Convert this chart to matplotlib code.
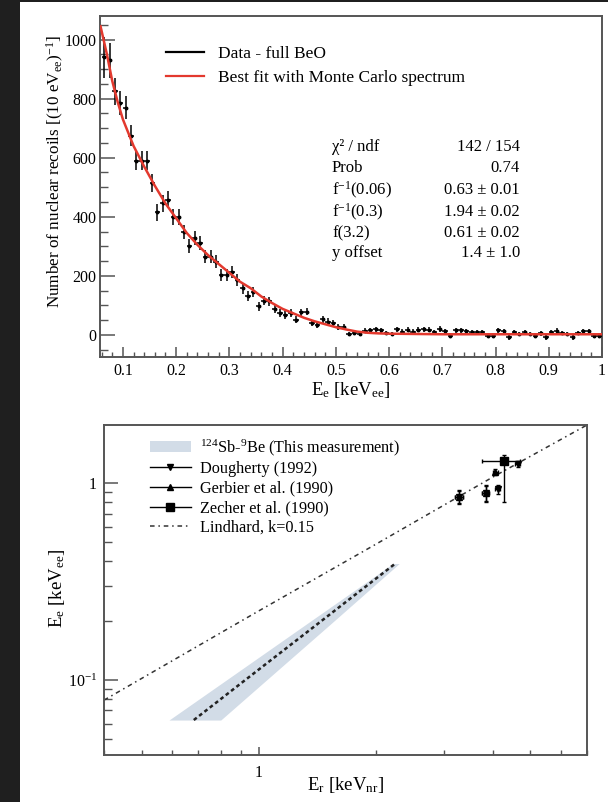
import matplotlib
matplotlib.use('Agg')
import matplotlib.pyplot as plt
from matplotlib.lines import Line2D
from matplotlib.patches import Patch, Rectangle
import matplotlib.ticker as mt
import numpy as np

plt.rcParams['font.family'] = ['Liberation Serif', 'DejaVu Serif']
plt.rcParams['mathtext.fontset'] = 'custom'
plt.rcParams['mathtext.rm'] = 'Liberation Serif'
plt.rcParams['mathtext.it'] = 'Liberation Serif:italic'
plt.rcParams['mathtext.bf'] = 'Liberation Serif:bold'

# ---------------- data: top panel ----------------
bin_start = 0.065
bin_width = 0.01
counts = [940, 930, 825, 785, 770, 675, 590, 590, 590, 514,
          415, 445, 458, 400, 400, 348, 300, 328, 311, 265,
          265, 248, 203, 203, 212, 186, 158, 130, 144, 97,
          115, 113, 88, 73, 68, 75, 52, 76, 79, 40,
          34, 53, 45, 40, 28, 28, 3, 6, 3, 14,
          15, 19, 15, 6, 3, 19, 11, 17, 11, 17,
          19, 17, 8, 20, 12, -3, 15, 15, 12, 10,
          10, 8, -3, -3, 15, 13, -8, 8, 3, 10,
          3, -3, 5, -8, 10, 13, 6, 3, -8, 6,
          12, 12, -3, -3]
count_errs = [70, 60, 45, 40, 38, 35, 33, 33, 32, 30,
              28, 28, 28, 27, 27, 25, 24, 24, 24, 22,
              22, 21, 20, 20, 20, 19, 18, 17, 17, 15,
              15, 15, 14, 13, 13, 13, 12, 13, 13, 11,
              11, 12, 11, 11, 10, 10, 8, 8, 8, 9,
              9, 9, 9, 8, 8, 9, 8, 9, 8, 9,
              9, 9, 8, 9, 8, 8, 9, 9, 8, 8,
              8, 8, 8, 8, 9, 8, 8, 8, 8, 8,
              8, 8, 8, 8, 8, 9, 8, 8, 8, 8,
              8, 8, 8, 8]
fit_x = [0.058, 0.07, 0.08, 0.09, 0.10, 0.12, 0.14, 0.16, 0.18, 0.20,
         0.22, 0.24, 0.26, 0.28, 0.30, 0.32, 0.34, 0.36, 0.38, 0.40,
         0.42, 0.44, 0.46, 0.48, 0.50, 0.52, 0.54, 0.56, 0.58, 0.60,
         0.65, 0.70, 0.80, 0.90, 1.00]
fit_y = [1045, 950, 860, 790, 730, 640, 570, 505, 445, 395,
         345, 305, 270, 240, 210, 180, 158, 130, 108, 88,
         73, 58, 46, 36, 26, 18, 11, 7, 5, 4,
         3, 2, 2, 2, 2]
x_ticks_top = [0.1, 0.2, 0.3, 0.4, 0.5, 0.6, 0.7, 0.8, 0.9, 1.0]
x_ticklabels_top = ['0.1', '0.2', '0.3', '0.4', '0.5', '0.6', '0.7', '0.8', '0.9', '1']
y_ticks_top = [0, 200, 400, 600, 800, 1000]

stats_names = ['\u03c7\u00b2 / ndf', 'Prob', 'f$^{-1}$(0.06)', 'f$^{-1}$(0.3)', 'f(3.2)', 'y offset']
stats_values = ['142 / 154', '0.74', '0.63 \u00b1 0.01', '1.94 \u00b1 0.02', '0.61 \u00b1 0.02', '1.4 \u00b1 1.0']

# ---------------- data: bottom panel ----------------
band_ee = [0.0626, 0.1, 0.2, 0.39]
band_er_lo = [0.588, 0.826, 1.365, 2.217]
band_er_hi = [0.799, 1.048, 1.566, 2.30]
band_er_mid = [0.681, 0.924, 1.454, 2.248]

lind_er = [0.4, 1.0, 2.0, 4.0, 7.0]
lind_ee = [0.079, 0.224, 0.488, 1.07, 1.97]

dough_er = [3.28, 3.84, 4.12, 4.64]
dough_ee = [0.85, 0.89, 0.93, 1.25]
dough_er_err = [0.08, 0.08, 0.05, 0.08]
dough_ee_err = [0.07, 0.09, 0.05, 0.04]

gerb_er = [3.28, 3.84, 4.07]
gerb_ee = [0.85, 0.89, 1.14]
gerb_er_err = [0.08, 0.08, 0.05]
gerb_ee_err = [0.06, 0.08, 0.04]

zech_er = [4.27]
zech_ee = [1.30]
zech_er_err_lo = [0.52]
zech_er_err_hi = [0.45]
zech_ee_err_lo = [0.50]
zech_ee_err_hi = [0.09]

# ---------------- figure ----------------
W, H = 608, 802
fig = plt.figure(figsize=(W / 100, H / 100), dpi=100, facecolor='#1f1f1f')
fig.patches.append(Rectangle((20 / W, 0), 1 - 20 / W, 1 - 2 / H, transform=fig.transFigure,
                             facecolor='white', edgecolor='none', zorder=-10))

def fx(px):
    return px / W

def fy(py):
    return 1 - py / H

spine_col = '#555555'

def style_axes(ax):
    for s in ax.spines.values():
        s.set_color(spine_col)
        s.set_linewidth(1.4)

# ---- top panel ----
ax1 = fig.add_axes([fx(100), fy(357), (602 - 100) / W, (357 - 16) / H])
style_axes(ax1)
xc = np.round(bin_start + bin_width * np.arange(len(counts)), 3)
ax1.errorbar(xc, counts, yerr=count_errs, xerr=bin_width / 2, fmt='o', ms=1.8,
             color='black', ecolor='black', elinewidth=1.1, capsize=0, zorder=3)
ax1.plot(fit_x, fit_y, color='#e3392e', lw=1.8, zorder=4)
ax1.set_xlim(0.057, 1.0)
ax1.set_ylim(-75, 1080)
ax1.set_xticks(x_ticks_top)
ax1.set_xticklabels(x_ticklabels_top)
ax1.set_yticks(y_ticks_top)
ax1.xaxis.set_minor_locator(mt.MultipleLocator(0.02))
ax1.yaxis.set_minor_locator(mt.MultipleLocator(50))
ax1.tick_params(axis='x', which='major', direction='in', length=7.2, width=1.1, color=spine_col,
                labelsize=11.5, pad=4, top=False)
ax1.tick_params(axis='x', which='minor', direction='in', length=3.6, width=1.0, color=spine_col, top=False)
ax1.tick_params(axis='y', which='major', direction='in', length=10.8, width=1.1, color=spine_col,
                labelsize=11.5, pad=2.5, right=False)
ax1.tick_params(axis='y', which='minor', direction='in', length=5.8, width=1.0, color=spine_col, right=False)

fig.text(fx(351), fy(390), 'E$_{\\rm e}$ [keV$_{\\rm ee}$]', fontsize=13.5, ha='center', va='center')
fig.text(fx(55), fy(172), 'Number of nuclear recoils [(10 eV$_{\\rm ee}$)$^{-1}$]', fontsize=12.3,
         rotation=90, ha='center', va='center')

h_data = Line2D([], [], color='black', lw=1.6)
h_fit = Line2D([], [], color='#e3392e', lw=1.6)
fig.legend([h_data, h_fit], ['Data - full BeO', 'Best fit with Monte Carlo spectrum'],
           loc='upper left', bbox_to_anchor=(fx(166), fy(46)), frameon=False,
           fontsize=12.5, handlelength=2.2, handletextpad=0.8, labelspacing=0.42,
           borderpad=0, borderaxespad=0)

row_y = [147, 168, 190, 212, 233, 253]
for name, val, yy in zip(stats_names, stats_values, row_y):
    fig.text(fx(332), fy(yy), name, fontsize=12, ha='left', va='center')
    fig.text(fx(520), fy(yy), val, fontsize=12, ha='right', va='center')

# ---- bottom panel ----
ax2 = fig.add_axes([fx(104), fy(755), (587 - 104) / W, (755 - 425) / H])
style_axes(ax2)
ax2.set_xscale('log')
ax2.set_yscale('log')
ax2.set_xlim(0.4, 7.0)
ax2.set_ylim(0.0416, 1.97)

ax2.fill_betweenx(band_ee, band_er_lo, band_er_hi, color='#d2dce7', lw=0, zorder=1)
ax2.plot(band_er_mid, band_ee, color='#222222', lw=1.8, ls=(0, (1.5, 1.2)), zorder=2)
ax2.plot(lind_er, lind_ee, color='#333333', lw=1.1, ls=(0, (3, 2.5, 1, 2.5)), zorder=2)

ax2.errorbar(dough_er, dough_ee, xerr=dough_er_err, yerr=dough_ee_err, fmt='v', ms=5,
             color='black', elinewidth=1, capsize=1.5, zorder=4)
ax2.errorbar(gerb_er, gerb_ee, xerr=gerb_er_err, yerr=gerb_ee_err, fmt='^', ms=5,
             color='black', elinewidth=1, capsize=1.5, zorder=4)
ax2.errorbar(zech_er, zech_ee, xerr=[zech_er_err_lo, zech_er_err_hi],
             yerr=[zech_ee_err_lo, zech_ee_err_hi], fmt='s', ms=5.5,
             color='black', elinewidth=1, capsize=1.5, zorder=4)

ax2.xaxis.set_major_locator(mt.FixedLocator([1.0]))
ax2.xaxis.set_major_formatter(mt.FixedFormatter(['1']))
ax2.xaxis.set_minor_locator(mt.LogLocator(base=10, subs=[2, 3, 4, 5, 6, 7, 8, 9]))
ax2.xaxis.set_minor_formatter(mt.NullFormatter())
ax2.yaxis.set_major_locator(mt.FixedLocator([0.1, 1.0]))
ax2.yaxis.set_major_formatter(mt.FixedFormatter(['10$^{-1}$', '1']))
ax2.yaxis.set_minor_locator(mt.LogLocator(base=10, subs=[2, 3, 4, 5, 6, 7, 8, 9]))
ax2.yaxis.set_minor_formatter(mt.NullFormatter())
ax2.tick_params(axis='x', which='major', direction='in', length=6, width=1.1, color=spine_col,
                labelsize=11.5, pad=7, top=False)
ax2.tick_params(axis='x', which='minor', direction='in', length=3.6, width=1.0, color=spine_col, top=False)
ax2.tick_params(axis='y', which='major', direction='in', length=10, width=1.1, color=spine_col,
                labelsize=11.5, pad=5, right=False)
ax2.tick_params(axis='y', which='minor', direction='in', length=5.8, width=1.0, color=spine_col, right=False)

fig.text(fx(346), fy(785), 'E$_{\\rm r}$ [keV$_{\\rm nr}$]', fontsize=13.5, ha='center', va='center')
fig.text(fx(57), fy(588), 'E$_{\\rm e}$ [keV$_{\\rm ee}$]', fontsize=13.5, rotation=90,
         ha='center', va='center')

h_band = Patch(facecolor='#d2dce7', edgecolor='none')
h_d = Line2D([], [], color='black', lw=1, marker='v', ms=5)
h_g = Line2D([], [], color='black', lw=1, marker='^', ms=5)
h_z = Line2D([], [], color='black', lw=1, marker='s', ms=5.5)
h_l = Line2D([], [], color='#333333', lw=1.1, ls=(0, (3, 2.5, 1, 2.5)))
fig.legend([h_band, h_d, h_g, h_z, h_l],
           ['$^{124}$Sb-$^{9}$Be (This measurement)', 'Dougherty (1992)', 'Gerbier et al. (1990)',
            'Zecher et al. (1990)', 'Lindhard, k=0.15'],
           loc='upper left', bbox_to_anchor=(fx(150), fy(437)), frameon=False,
           fontsize=11.7, handlelength=2.5, handletextpad=0.55, labelspacing=0.22,
           borderpad=0, borderaxespad=0)

fig.savefig('out.png', dpi=100, facecolor=fig.get_facecolor())
